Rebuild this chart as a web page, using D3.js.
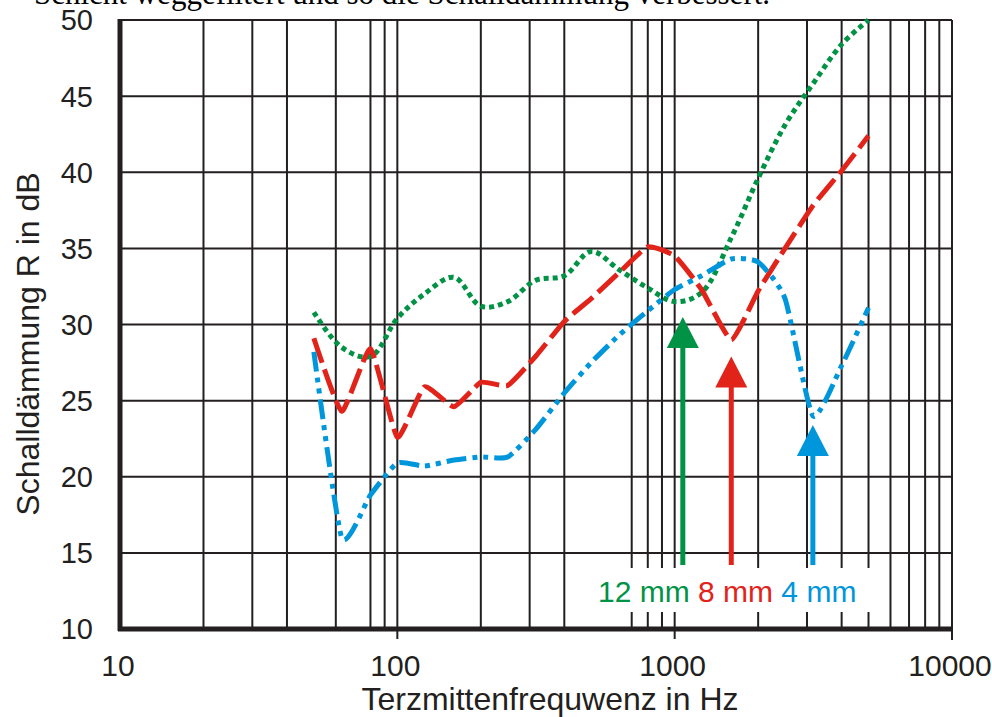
<!DOCTYPE html>
<html>
<head>
<meta charset="utf-8">
<script src="https://cdn.jsdelivr.net/npm/d3@7"></script>
<style>
  body { margin: 0; background: #fff; }
  svg { display: block; }
</style>
</head>
<body>
<script>
var width = 992,
    height = 717;

// Third-octave band centre frequencies
var freqs = [50, 63, 80, 100, 125, 160, 200, 250, 315, 400, 500, 630, 800,
             1000, 1250, 1600, 2000, 2500, 3150, 4000, 5000];

// Sound reduction index R in dB per pane thickness
var r12mm = [30.8, 28.5, 27.9, 30.4, 32.0, 33.1, 31.2, 31.5, 32.9, 33.2, 34.8,
             33.6, 32.4, 31.5, 32.1, 35.7, 39.6, 43.1, 45.8, 48.4, 50.0];
var r8mm  = [29.1, 24.3, 28.4, 22.6, 25.9, 24.6, 26.2, 26.0, 27.9, 30.2, 31.7,
             33.4, 35.1, 34.5, 32.3, 29.0, 32.2, 35.0, 37.8, 40.1, 42.4];
var r4mm  = [28.2, 16.0, 18.8, 20.9, 20.7, 21.1, 21.3, 21.3, 23.1, 25.5, 27.5,
             29.3, 30.9, 32.3, 33.2, 34.3, 34.1, 31.7, 24.0, 27.3, 31.1];

// Coincidence dips marked with arrows
var arrowFreq = [1070, 1600, 3150];
var arrowTip  = [30.5, 27.9, 23.4];
var labels    = ['12 mm', '8 mm', '4 mm'];

var xTicks = [10, 100, 1000, 10000];
var yTicks = [10, 15, 20, 25, 30, 35, 40, 45, 50];
var xGrid  = [20, 30, 40, 60, 80, 90, 100, 200, 300, 400, 700, 800, 900, 1000,
              2000, 3000, 4000, 5000, 6000, 7000, 8000, 9000];

var colors = ['#009245', '#e2231a', '#0096db'];
var ink = '#231f20';

var svg = d3.select('body').append('svg')
    .attr('width', width)
    .attr('height', height);

// Leftover line of the surrounding document, cut at the top
svg.append('text')
    .attr('x', 34)
    .attr('y', 4)
    .style('font-family', '"Liberation Serif", serif')
    .style('font-size', '31px')
    .text('Schicht weggefiltert und so die Schalldämmung verbessert.');

var x = d3.scaleLog()
    .domain([10, 10000])
    .range([120, 952]);

var y = d3.scaleLinear()
    .domain([10, 50])
    .range([629, 20]);

// grid
var grid = svg.append('g').attr('stroke', ink).attr('stroke-width', 2);

grid.selectAll('.vg')
    .data(xGrid)
    .enter().append('line')
    .attr('x1', function(d) { return x(d); })
    .attr('x2', function(d) { return x(d); })
    .attr('y1', y(50))
    .attr('y2', y(10));

grid.selectAll('.hg')
    .data(yTicks.slice(1))
    .enter().append('line')
    .attr('x1', x(10))
    .attr('x2', x(10000))
    .attr('y1', function(d) { return y(d); })
    .attr('y2', function(d) { return y(d); });

// right frame and long decade ticks below the axis
grid.append('line')
    .attr('x1', x(10000)).attr('x2', x(10000))
    .attr('y1', y(50)).attr('y2', y(10) + 11);

grid.selectAll('.dt')
    .data([100, 1000])
    .enter().append('line')
    .attr('x1', function(d) { return x(d); })
    .attr('x2', function(d) { return x(d); })
    .attr('y1', y(10))
    .attr('y2', y(10) + 10);

// white box behind the labels
svg.append('rect')
    .attr('x', 594)
    .attr('y', 568)
    .attr('width', 281)
    .attr('height', 44)
    .attr('fill', '#fff');

// thick axes
svg.append('line')
    .attr('x1', x(10)).attr('x2', x(10))
    .attr('y1', y(50) - 1).attr('y2', y(10) + 2)
    .attr('stroke', ink).attr('stroke-width', 5);

svg.append('line')
    .attr('x1', x(10) - 2).attr('x2', x(10000) + 1)
    .attr('y1', y(10)).attr('y2', y(10))
    .attr('stroke', ink).attr('stroke-width', 5);

// tick labels
svg.selectAll('.yl')
    .data(yTicks)
    .enter().append('text')
    .attr('x', 93)
    .attr('y', function(d) { return y(d); })
    .attr('dy', '0.36em')
    .attr('text-anchor', 'end')
    .style('font-family', '"Liberation Sans", Arial, sans-serif')
    .style('font-size', '29px')
    .attr('fill', ink)
    .text(function(d) { return d; });

svg.selectAll('.xl')
    .data(xTicks)
    .enter().append('text')
    .attr('x', function(d) { return x(d) - 2; })
    .attr('y', 676)
    .attr('text-anchor', 'middle')
    .style('font-family', '"Liberation Sans", Arial, sans-serif')
    .style('font-size', '30px')
    .attr('fill', ink)
    .text(function(d) { return d; });

// axis titles
svg.append('text')
    .attr('x', 550)
    .attr('y', 710)
    .attr('text-anchor', 'middle')
    .style('font-family', '"Liberation Sans", Arial, sans-serif')
    .style('font-size', '32px')
    .attr('fill', ink)
    .text('Terzmittenfrequwenz in Hz');

svg.append('text')
    .attr('transform', 'translate(39,344) rotate(-90)')
    .attr('text-anchor', 'middle')
    .style('font-family', '"Liberation Sans", Arial, sans-serif')
    .style('font-size', '32px')
    .attr('fill', ink)
    .text('Schalldämmung R in dB');

// curves: the dotted one is smooth, the others keep their sharp dips
var curves = [d3.curveCatmullRom.alpha(0.5),
              d3.curveCardinal.tension(0.55),
              d3.curveCardinal.tension(0.45)];
var series = [r12mm, r8mm, r4mm];
var dashes = ['5,4', '26,7', '20,6,5,6,5,6'];

series.forEach(function(vals, i) {
  var line = d3.line()
      .x(function(d) { return x(d[0]); })
      .y(function(d) { return y(d[1]); })
      .curve(curves[i]);

  svg.append('path')
      .datum(freqs.map(function(f, j) { return [f, vals[j]]; }))
      .attr('d', line)
      .attr('fill', 'none')
      .attr('stroke', colors[i])
      .attr('stroke-width', 5)
      .attr('stroke-dasharray', dashes[i]);
});

// arrows
var arrows = svg.append('g');
arrowFreq.forEach(function(f, i) {
  var ax = x(f), tip = y(arrowTip[i]);
  arrows.append('line')
      .attr('x1', ax).attr('x2', ax)
      .attr('y1', tip + 25).attr('y2', y(14.2))
      .attr('stroke', colors[i])
      .attr('stroke-width', 5);
  arrows.append('path')
      .attr('d', 'M' + ax + ',' + tip + 'L' + (ax + 16) + ',' + (tip + 31) +
                 'L' + (ax - 16) + ',' + (tip + 31) + 'Z')
      .attr('fill', colors[i]);
});

// labels
var lab = svg.append('text')
    .attr('x', 598)
    .attr('y', 602)
    .style('font-family', '"Liberation Sans", Arial, sans-serif')
    .style('font-size', '30px');

labels.forEach(function(t, i) {
  lab.append('tspan')
      .attr('fill', colors[i])
      .text((i > 0 ? ' ' : '') + t);
});
</script>
</body>
</html>
